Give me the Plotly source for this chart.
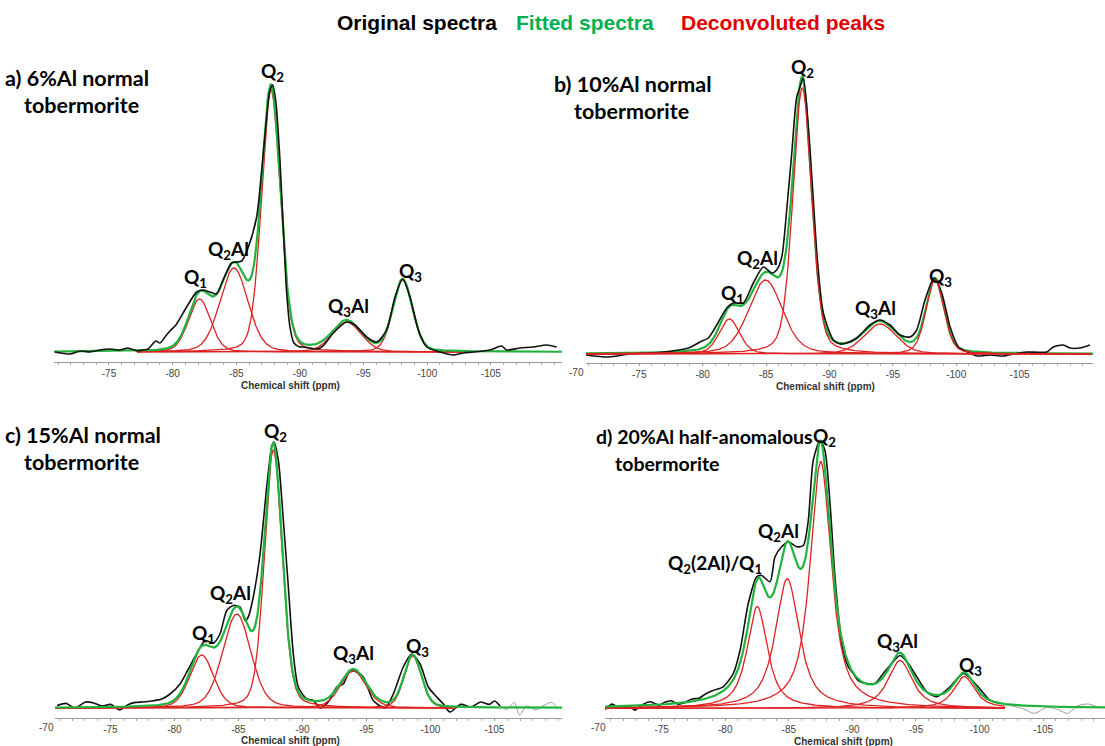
import numpy as np
import plotly.graph_objects as go

W, H = 1105, 746

# ---------------- data ----------------
peak_names = ["Q1", "Q2Al", "Q2", "Q3Al", "Q3"]

# panel a : 6%Al normal tobermorite
a_centers = [-82.11, -84.82, -87.73, -93.67, -98.07]
a_heights = [53, 84, 262, 30, 72]
a_fwhm = [2.04, 2.6, 1.73, 2.67, 1.81]
a_eta = 0.2
a_orig_ppm = [-70.76, -71.94, -72.72, -73.51, -74.29, -75.08, -75.86, -76.49, -77.20, -77.67,
              -78.06, -78.69, -79.01, -79.40, -79.79, -80.26, -81.10, -81.89, -82.38, -82.93,
              -83.46, -83.96, -84.64, -85.05, -85.42, -85.92, -86.60, -87.00, -87.39, -87.65,
              -87.86, -88.12, -88.43, -88.69, -88.96, -89.22, -89.53, -90.00, -90.26, -91.32,
              -91.81, -92.62, -93.67, -94.32, -95.24, -96.03, -96.81, -97.47, -98.07, -98.65,
              -99.30, -99.96, -101.00, -102.05, -102.83, -103.62, -104.93, -105.85, -106.24, -107.29,
              -108.31, -109.38, -110.17]
a_orig_int = [0, -2, 1, 0, 2, 3, 2, 4, 1, 2,
              3, 11, 9, 15, 21, 27, 45, 60, 62, 60,
              58, 72, 89, 90, 91, 104, 135, 182, 235, 262,
              267, 249, 192, 125, 59, 25, 9, 5, 5, 3,
              6, 19, 30, 27, 15, 10, 22, 55, 73, 55,
              22, 5, 0, -3, -1, 0, 2, 6, 2, 4,
              5, 7, 5]

# panel b : 10%Al normal tobermorite
b_centers = [-82.11, -84.96, -87.86, -93.99, -98.33]
b_heights = [35, 74, 266, 30, 74]
b_fwhm = [1.9, 3.15, 1.74, 3.0, 1.66]
b_eta = 0.3
b_orig_ppm = [-70.80, -72.59, -74.24, -75.88, -76.98, -78.08, -78.90, -79.79, -80.45, -81.11,
              -81.90, -82.42, -83.21, -84.00, -84.79, -85.45, -85.84, -86.24, -86.63, -87.03,
              -87.42, -87.68, -87.94, -88.34, -88.73, -89.05, -89.52, -90.31, -90.84, -91.36,
              -92.15, -93.20, -93.99, -94.78, -95.57, -96.36, -96.88, -97.54, -98.25, -98.86,
              -99.52, -100.17, -101.09, -101.62, -102.67, -103.71, -104.50, -105.56, -107.14, -107.66,
              -108.45, -108.97, -109.76, -110.55]
b_orig_int = [-1, -3, 0, 1, 2, 4, 6, 12, 16, 29,
              46, 51, 51, 71, 87, 81, 84, 97, 144, 201,
              257, 267, 276, 227, 154, 94, 41, 14, 10, 11,
              16, 29, 34, 29, 19, 17, 24, 54, 76, 61,
              27, 7, 1, -2, -1, -2, 0, 2, 2, 7,
              9, 6, 6, 9]

# panel c : 15%Al normal tobermorite
c_centers = [-82.13, -84.87, -87.73, -93.98, -98.62]
c_heights = [53, 94, 258, 37, 52]
c_fwhm = [2.2, 2.6, 1.64, 2.4, 1.6]
c_eta = 0.25
c_orig_ppm = [-70.83, -71.53, -72.23, -73.07, -73.69, -74.33, -75.02, -75.72, -76.42, -76.98,
              -77.54, -78.23, -79.01, -79.66, -80.44, -81.09, -81.74, -82.39, -83.04, -83.56,
              -84.09, -84.60, -85.13, -85.52, -85.77, -86.16, -86.69, -87.21, -87.60, -87.78,
              -88.12, -88.51, -88.90, -89.29, -89.68, -90.34, -90.85, -91.38, -92.02, -92.68,
              -93.20, -93.72, -94.24, -94.76, -95.54, -96.45, -97.10, -97.88, -98.54, -99.19,
              -99.84, -100.49, -101.01, -101.53, -102.37, -103.20, -103.91, -104.60, -105.02, -105.44]
c_orig_int = [2.5, 4.6, 0, 6, 5, 2, 3.6, -2, 3.6, 5.6,
              6, 7, 9, 14, 24, 39, 54, 67.5, 65, 74,
              97.5, 102.5, 101, 87.5, 91, 111, 154, 221, 261, 266,
              247.5, 187.5, 121, 54, 21, 9, 7.5, 0, 6, 21,
              24, 37.5, 36, 31, 7.5, 0, 14, 41, 54, 44,
              21, 11, 4, -4, 3.6, 1, 6, 3.6, 7, 2]
c_tail_ppm = [-105.44, -105.98, -106.53, -106.97, -107.53, -108.23, -108.79, -109.48, -109.89]
c_tail_int = [2, -1.4, 5.7, -7, 2, -2, 2, 5.7, 0]

# panel d : 20%Al half-anomalous tobermorite
d_names = ["Q2(2Al)/Q1", "Q2Al", "Q2", "Q3Al", "Q3"]
d_centers = [-82.52, -84.88, -87.51, -93.75, -98.80]
d_heights = [102, 130, 247, 48, 32]
d_fwhm = [1.9, 2.23, 1.97, 2.28, 1.97]
d_eta = 0.8
d_orig_ppm = [-70.55, -71.09, -71.64, -72.46, -72.87, -73.56, -74.11, -74.79, -75.20, -75.74,
              -76.29, -76.84, -77.39, -77.93, -78.48, -79.03, -79.84, -80.63, -81.16, -81.81,
              -82.47, -82.86, -83.52, -83.91, -84.44, -84.96, -85.62, -86.14, -86.53, -86.92,
              -87.45, -87.84, -88.24, -88.63, -89.16, -89.68, -90.07, -90.46, -91.13, -91.78,
              -92.43, -93.09, -93.75, -94.40, -95.06, -95.85, -96.63, -97.68, -98.73, -99.78,
              -100.83, -101.61]
d_orig_int = [-1, 4.4, 1, 2.6, -1.6, 4.4, 6.8, 3.3, 6, 7.8,
              4.4, 6, 9.6, 10.3, 14.8, 18, 21.7, 35, 58, 105,
              131.7, 133, 126.7, 151.7, 161.7, 166.7, 161.7, 163, 188, 248,
              268, 258, 205, 131.7, 65, 41.7, 35, 28, 25, 25,
              35, 45, 53, 45, 31.7, 16.7, 11.7, 21.7, 35, 23.3,
              8.3, 5]
d_tail_ppm = [-101.61, -102.27, -103.37, -104.32, -105.28, -106.10, -106.92, -107.74, -108.56, -109.38]
d_tail_int = [5, 3.3, 0, -4.9, 1, -0.7, -4.9, 2.8, 4.5, 1]

tick_vals = [-70, -75, -80, -85, -90, -95, -100, -105]
tick_text = ["-70", "-75", "-80", "-85", "-90", "-95", "-100", "-105"]

# ---------------- styling / layout ----------------
BLACK = "#111111"
GREEN = "#22b23e"
RED = "#dd2222"


def pvoigt(x, c, h, w, eta):
    t = ((x - c) / w) ** 2
    return h * (eta / (1 + 4 * t) + (1 - eta) * np.exp(-4 * np.log(2) * t))


panels = [
    dict(px=(54, 562), rng=(-70.68, -110.59), top=60, axis=362, base=352,
         c=a_centers, h=a_heights, w=a_fwhm, eta=a_eta, op=a_orig_ppm, oi=a_orig_int, tp=None, ti=None,
         red=(-77.2, -102.8), order="rgk"),
    dict(px=(586, 1093), rng=(-70.80, -110.79), top=60, axis=363, base=354,
         c=b_centers, h=b_heights, w=b_fwhm, eta=b_eta, op=b_orig_ppm, oi=b_orig_int, tp=None, ti=None,
         red=(-70.8, -110.7), order="gkr"),
    dict(px=(55, 562), rng=(-70.67, -110.28), top=420, axis=718, base=708,
         c=c_centers, h=c_heights, w=c_fwhm, eta=c_eta, op=c_orig_ppm, oi=c_orig_int, tp=c_tail_ppm,
         ti=c_tail_int, red=(-70.7, -102.0), order="krg"),
    dict(px=(605, 1105), rng=(-70.54, -109.87), top=420, axis=718, base=708.5,
         c=d_centers, h=d_heights, w=d_fwhm, eta=d_eta, op=d_orig_ppm, oi=d_orig_int, tp=d_tail_ppm,
         ti=d_tail_int, red=(-70.5, -102.0), order="krg"),
]

fig = go.Figure()
layout = dict(width=W, height=H, margin=dict(l=0, r=0, t=0, b=0),
              paper_bgcolor="white", plot_bgcolor="white", showlegend=False)

for i, p in enumerate(panels, start=1):
    xa = "x" if i == 1 else f"x{i}"
    ya = "y" if i == 1 else f"y{i}"
    xfull = np.linspace(p["rng"][0], p["rng"][1], 700)
    xred = np.linspace(p["red"][0], p["red"][1], 600)
    fit = np.zeros_like(xfull)
    for c, h, w in zip(p["c"], p["h"], p["w"]):
        fit += pvoigt(xfull, c, h, w, p["eta"])

    def add_red():
        for c, h, w in zip(p["c"], p["h"], p["w"]):
            fig.add_trace(go.Scatter(x=xred, y=pvoigt(xred, c, h, w, p["eta"]), mode="lines",
                                     line=dict(color=RED, width=1.3), xaxis=xa, yaxis=ya,
                                     hoverinfo="skip"))

    def add_green():
        fig.add_trace(go.Scatter(x=xfull, y=fit, mode="lines",
                                 line=dict(color=GREEN, width=2.2), xaxis=xa, yaxis=ya,
                                 hoverinfo="skip"))

    def add_black():
        fig.add_trace(go.Scatter(x=p["op"], y=p["oi"], mode="lines",
                                 line=dict(color=BLACK, width=1.6, shape="spline", smoothing=0.7),
                                 xaxis=xa, yaxis=ya, hoverinfo="skip"))
        if p["tp"] is not None:
            fig.add_trace(go.Scatter(x=p["tp"], y=p["ti"], mode="lines",
                                     line=dict(color="#9a9a9a", width=1, shape="spline", smoothing=0.7),
                                     xaxis=xa, yaxis=ya, hoverinfo="skip"))

    for ch in p["order"]:
        {"r": add_red, "g": add_green, "k": add_black}[ch]()

    x0, x1 = p["px"]
    keyx = "xaxis" if i == 1 else f"xaxis{i}"
    keyy = "yaxis" if i == 1 else f"yaxis{i}"
    layout[keyx] = dict(domain=[x0 / W, x1 / W], range=list(p["rng"]), anchor=ya,
                        tickvals=tick_vals, ticktext=tick_text, showgrid=False, zeroline=False,
                        showline=True, linecolor="#9a9a9a", linewidth=1,
                        ticks="outside", ticklen=2, tickcolor="#9a9a9a",
                        tickfont=dict(family="Liberation Sans, Arial", size=10, color="#444444"),
                        minor=dict(dtick=1, ticklen=2, tickcolor="#b0b0b0", showgrid=False),
                        fixedrange=True)
    layout[keyy] = dict(domain=[1 - p["axis"] / H, 1 - p["top"] / H],
                        range=[p["base"] - p["axis"], p["base"] - p["top"]],
                        visible=False, fixedrange=True)

fig.update_layout(**layout)


def ann(text, x, y, size, color="black", family="Lato, Calibri, sans-serif", xanchor="center",
        bold=True):
    t = f"<b>{text}</b>" if bold else text
    fig.add_annotation(text=t, x=x / W, y=1 - y / H, xref="paper", yref="paper",
                       showarrow=False, xanchor=xanchor, yanchor="middle",
                       font=dict(family=family, size=size, color=color))


# top legend text
LEG_FONT = "Liberation Sans, Arial"
ann("Original spectra", 335, 22, 21, "black", LEG_FONT, "left")
ann("Fitted spectra", 585, 22, 21, "#00b050", LEG_FONT, "center")
ann("Deconvoluted peaks", 887, 22, 21, "#e00000", LEG_FONT, "right")

# panel titles
ann("a) 6%Al normal", 3, 78, 21.5, xanchor="left")
ann("tobermorite", 22, 105, 21.5, xanchor="left")
ann("b) 10%Al normal", 552, 84, 21.5, xanchor="left")
ann("tobermorite", 572, 111, 21.5, xanchor="left")
ann("c) 15%Al normal", 3, 435, 21.5, xanchor="left")
ann("tobermorite", 22, 462, 21.5, xanchor="left")
ann("d) 20%Al half-anomalous", 594, 437, 19.5, xanchor="left")
ann("tobermorite", 613, 463, 19.5, xanchor="left")

# peak labels
QF = 19
labels = [
    ("Q<sub>2</sub>", 272, 72), ("Q<sub>2</sub>Al", 228, 250), ("Q<sub>1</sub>", 195, 278),
    ("Q<sub>3</sub>Al", 348, 307), ("Q<sub>3</sub>", 410, 272),
    ("Q<sub>2</sub>", 802, 68), ("Q<sub>2</sub>Al", 757, 259), ("Q<sub>1</sub>", 732, 294),
    ("Q<sub>3</sub>Al", 875, 309), ("Q<sub>3</sub>", 940, 277),
    ("Q<sub>2</sub>", 275, 432), ("Q<sub>2</sub>Al", 230, 594), ("Q<sub>1</sub>", 203, 634),
    ("Q<sub>3</sub>Al", 353, 654), ("Q<sub>3</sub>", 417, 647),
    ("Q<sub>2</sub>", 824, 437), ("Q<sub>2</sub>Al", 778, 532), ("Q<sub>2</sub>(2Al)/Q<sub>1</sub>", 715, 564),
    ("Q<sub>3</sub>Al", 897, 642), ("Q<sub>3</sub>", 970, 666),
]
for t, x, y in labels:
    ann(t, x, y, QF)

# axis titles and the -70 labels that sit left of the axis start
AXF = "Liberation Sans, Arial"
for x, y in [(290, 385), (825, 386), (290, 740), (843, 741)]:
    ann("Chemical shift (ppm)", x, y, 10, "#333333", AXF)
for x, y in [(576, 372), (46, 727), (598, 727)]:
    ann("-70", x, y, 10, "#444444", AXF, bold=False)

fig.write_html("out.html", config={"displayModeBar": False},
               post_script="document.body.style.margin='0px';document.body.style.overflow='hidden';")
